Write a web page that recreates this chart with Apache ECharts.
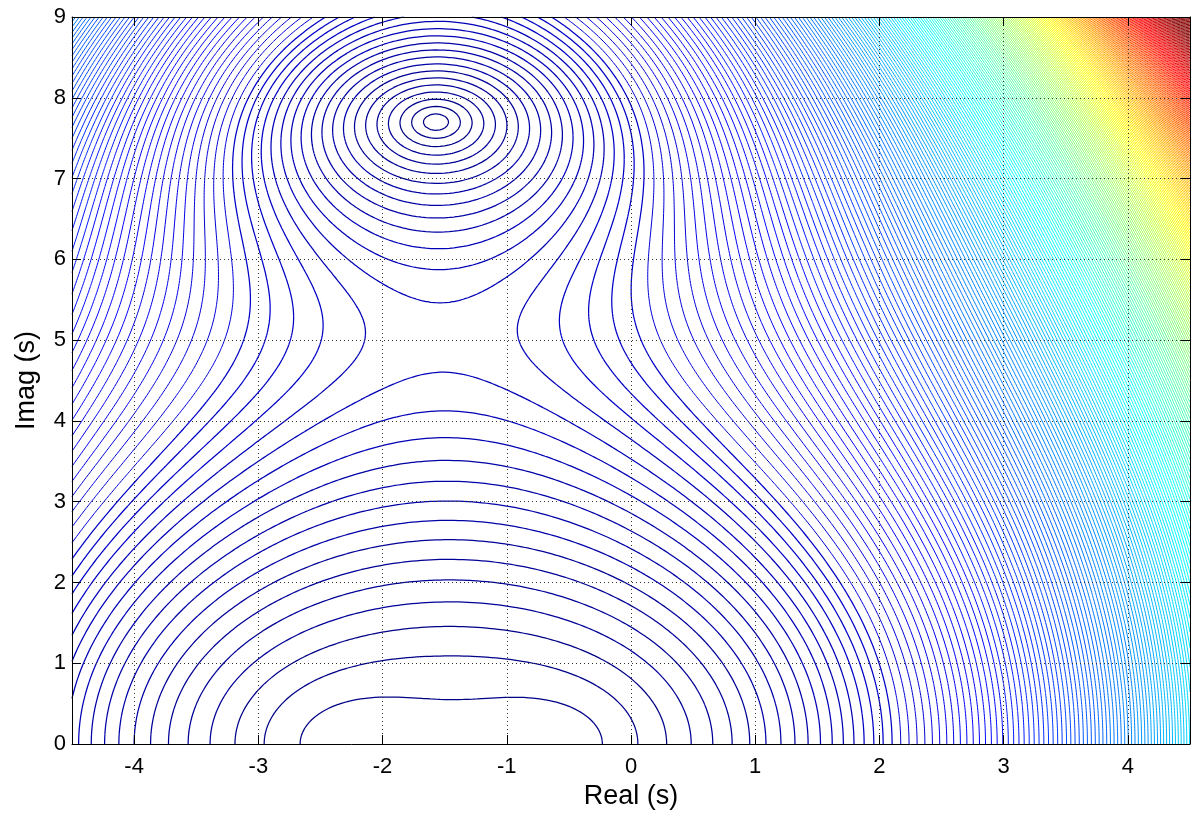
<!DOCTYPE html>
<html>
<head>
<meta charset="utf-8">
<script src="https://cdn.jsdelivr.net/npm/echarts@6/dist/echarts.min.js"></script>
<style>
  html, body { margin: 0; padding: 0; background: #fff; }
  #chart { width: 1192px; height: 825px; }
</style>
</head>
<body>
<div id="chart"></div>
<script>
// zeros of the plotted magnitude surface (real, imag)
const zeroRe = [-1.57, -1.57, -2.225, -0.665, -1.5, -1.5];
const zeroIm = [7.7, -7.7, 0, 0, 11.75, -11.75];
const gain = 1 / 138;

const realRange = [-4.5, 4.5];
const imagRange = [0, 9];

// contour levels: first level and spacing, estimated from the rings near the real axis
const firstLevel = 53.6;
const levelStep = 50;
// colour limits of the jet map
const colourLimits = [0, 12600];

const FONT = 'Liberation Sans, Arial, sans-serif';

const chartDom = document.getElementById('chart');
const myChart = echarts.init(chartDom, null, { renderer: 'canvas' });

// jet colormap, 64 entries like the matlab default
const jet = (t) => {
  const c = (v) => Math.round(255 * Math.max(0, Math.min(1, v)));
  return 'rgb(' + c(1.5 - Math.abs(4 * t - 3)) + ',' + c(1.5 - Math.abs(4 * t - 2)) + ',' + c(1.5 - Math.abs(4 * t - 1)) + ')';
};
const NCOL = 64;

const magnitude = (x, y) => {
  let p = gain;
  for (let k = 0; k < zeroRe.length; k += 1) {
    p *= Math.hypot(x - zeroRe[k], y - zeroIm[k]);
  }
  return p;
};

// sample the surface
const nx = 240;
const ny = 240;
const dx = (realRange[1] - realRange[0]) / nx;
const dy = (imagRange[1] - imagRange[0]) / ny;
const vals = new Float64Array((nx + 1) * (ny + 1));
for (let j = 0; j <= ny; j += 1) {
  for (let i = 0; i <= nx; i += 1) {
    vals[j * (nx + 1) + i] = magnitude(realRange[0] + i * dx, imagRange[0] + j * dy);
  }
}

// marching squares, segments grouped by colour
const buckets = [];
for (let k = 0; k < NCOL; k += 1) buckets.push([]);

const pairs = {
  1: [[3, 0]], 2: [[0, 1]], 3: [[3, 1]], 4: [[1, 2]], 6: [[0, 2]], 7: [[3, 2]],
  8: [[2, 3]], 9: [[0, 2]], 11: [[1, 2]], 12: [[1, 3]], 13: [[0, 1]], 14: [[3, 0]],
};

for (let j = 0; j < ny; j += 1) {
  const y0 = imagRange[0] + j * dy;
  const y1 = y0 + dy;
  for (let i = 0; i < nx; i += 1) {
    const x0 = realRange[0] + i * dx;
    const x1 = x0 + dx;
    const a = vals[j * (nx + 1) + i];
    const b = vals[j * (nx + 1) + i + 1];
    const c = vals[(j + 1) * (nx + 1) + i + 1];
    const d = vals[(j + 1) * (nx + 1) + i];
    const lo = Math.min(a, b, c, d);
    const hi = Math.max(a, b, c, d);
    let k0 = Math.ceil((lo - firstLevel) / levelStep);
    if (k0 < 0) k0 = 0;
    const k1 = Math.floor((hi - firstLevel) / levelStep);
    for (let k = k0; k <= k1; k += 1) {
      const L = firstLevel + k * levelStep;
      const idx = (a > L ? 1 : 0) | (b > L ? 2 : 0) | (c > L ? 4 : 0) | (d > L ? 8 : 0);
      if (idx === 0 || idx === 15) continue;
      const edge = (e) => {
        if (e === 0) return [x0 + (L - a) / (b - a) * dx, y0];
        if (e === 1) return [x1, y0 + (L - b) / (c - b) * dy];
        if (e === 2) return [x0 + (L - d) / (c - d) * dx, y1];
        return [x0, y0 + (L - a) / (d - a) * dy];
      };
      let segs = pairs[idx];
      if (idx === 5 || idx === 10) {
        const centre = (a + b + c + d) / 4 > L;
        if ((idx === 5) === centre) segs = [[0, 1], [2, 3]];
        else segs = [[3, 0], [1, 2]];
      }
      const t = (L - colourLimits[0]) / (colourLimits[1] - colourLimits[0]);
      const ci = Math.min(NCOL - 1, Math.max(0, Math.floor(t * NCOL)));
      for (const s of segs) {
        buckets[ci].push({ coords: [edge(s[0]), edge(s[1])] });
      }
    }
  }
}

const series = [];
buckets.forEach((segs, ci) => {
  if (!segs.length) return;
  series.push({
    type: 'lines',
    coordinateSystem: 'cartesian2d',
    xAxisIndex: 0,
    yAxisIndex: 0,
    large: true,
    largeThreshold: 50,
    polyline: false,
    silent: true,
    animation: false,
    // the sparse dark rings read a bit heavier than the packed coloured ones
    lineStyle: { color: jet((ci + 0.5) / NCOL), width: ci < 5 ? 1.25 : 1, opacity: 1 },
    data: segs,
  });
});

const axisLine = { show: true, onZero: false, lineStyle: { color: '#000', width: 1 } };
const axisTick = { show: true, inside: true, length: 9, lineStyle: { color: '#000', width: 1 } };
const gridLine = { show: true, lineStyle: { color: '#333', width: 1, type: [1, 3] } };

const option = {
  backgroundColor: '#fff',
  animation: false,
  grid: { left: 72, right: 2, top: 17, bottom: 81, containLabel: false },
  xAxis: [
    {
      type: 'value',
      position: 'bottom',
      min: realRange[0],
      max: realRange[1],
      splitNumber: 9,
      z: 3,
      name: 'Real (s)',
      nameLocation: 'middle',
      nameGap: 33,
      nameTextStyle: { fontSize: 27, color: '#000', fontFamily: FONT },
      axisLine,
      axisTick,
      axisLabel: { fontSize: 22, color: '#000', fontFamily: FONT, margin: 12, showMinLabel: false, showMaxLabel: false },
      splitLine: gridLine,
    },
    {
      type: 'value',
      position: 'top',
      min: realRange[0],
      max: realRange[1],
      splitNumber: 9,
      z: 3,
      axisLine,
      axisTick,
      axisLabel: { show: false },
      splitLine: { show: false },
    },
  ],
  yAxis: [
    {
      type: 'value',
      position: 'left',
      min: imagRange[0],
      max: imagRange[1],
      interval: 1,
      z: 3,
      name: 'Imag (s)',
      nameLocation: 'middle',
      nameGap: 32,
      nameTextStyle: { fontSize: 27, color: '#000', fontFamily: FONT },
      axisLine,
      axisTick,
      axisLabel: { fontSize: 22, color: '#000', fontFamily: FONT, margin: 6 },
      splitLine: gridLine,
    },
    {
      type: 'value',
      position: 'right',
      min: imagRange[0],
      max: imagRange[1],
      interval: 1,
      z: 3,
      axisLine,
      axisTick,
      axisLabel: { show: false },
      splitLine: { show: false },
    },
  ],
  series,
};

myChart.setOption(option);
</script>
</body>
</html>
